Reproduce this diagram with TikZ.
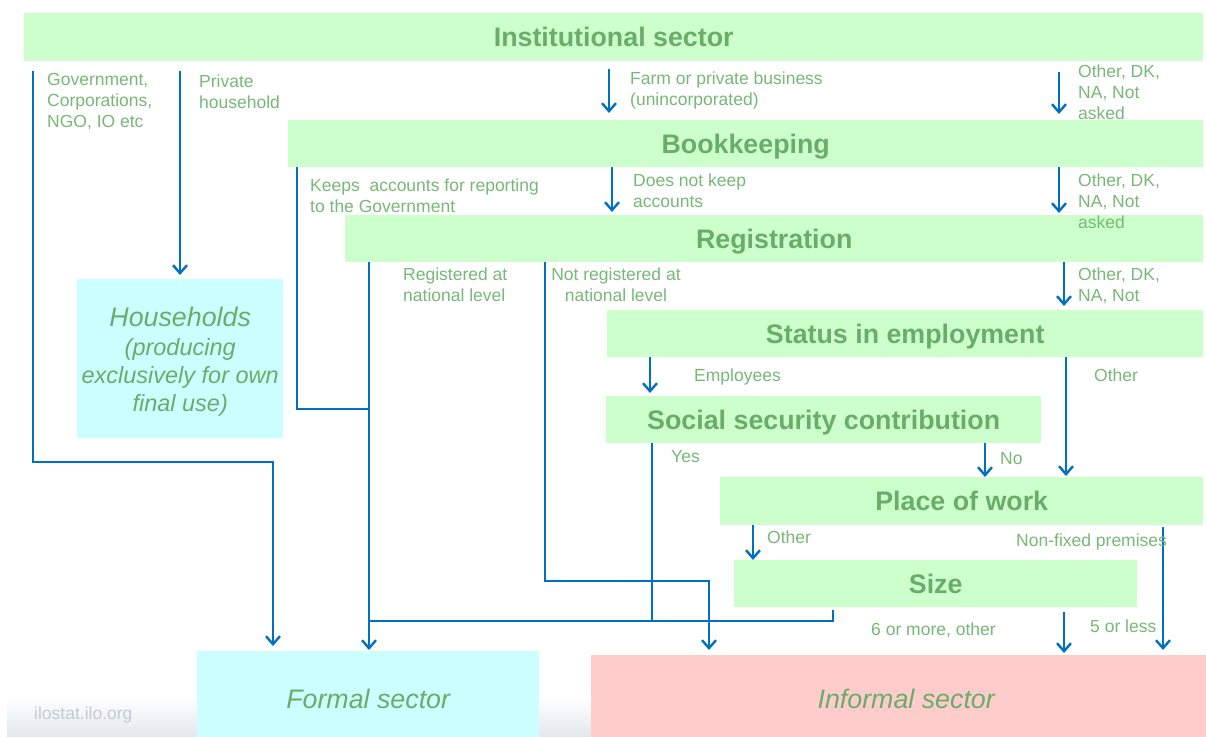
\documentclass[tikz,border=0pt]{standalone}
\usepackage{fontspec}
\setmainfont{Liberation Sans}
\usetikzlibrary{arrows.meta}
\definecolor{boxgreen}{HTML}{CCFFCC}
\definecolor{boxcyan}{HTML}{CCFFFF}
\definecolor{boxpink}{HTML}{FFCCCC}
\definecolor{titgreen}{HTML}{6AAD6A}
\definecolor{lblgreen}{HTML}{78B878}
\definecolor{lblue}{HTML}{0070C0}
\definecolor{wmark}{HTML}{C3CAD6}
\definecolor{band}{HTML}{E4E7EC}
\begin{document}
\begin{tikzpicture}[x=1pt,y=-1pt,
  gbox/.style={fill=boxgreen, inner sep=0pt, anchor=north west, text=titgreen,
    text height=19pt, text depth=0pt,
    font=\fontsize{26.8}{32}\selectfont\bfseries},
  obox/.style={inner sep=0pt, anchor=north west, text=titgreen,
    font=\fontsize{26.8}{32}\selectfont\itshape},
  lbl/.style={inner sep=0pt, anchor=north west, align=left, text=lblgreen,
    font=\fontsize{17.5}{21}\selectfont},
  ln/.style={draw=lblue, line width=2.4pt},
  arr/.style={ln, -{Straight Barb[length=8pt,width=14pt,line width=2.4pt]}}
]
\useasboundingbox (0,0) rectangle (1206,736);
\clip (0,0) rectangle (1206,736);
\fill[white] (0,0) rectangle (1206,736);
\shade[top color=white, bottom color=band] (7,697) rectangle (1206,736);

% boxes
\node[gbox, minimum width=1179pt, minimum height=48pt] (inst) at (24,13) {Institutional sector};
\node[gbox, minimum width=915pt, minimum height=47pt] (book) at (288,120) {Bookkeeping};
\node[gbox, minimum width=858pt, minimum height=47pt] (reg) at (345,215) {Registration};
\node[gbox, minimum width=596pt, minimum height=47pt] (stat) at (607,310) {Status in employment};
\node[gbox, minimum width=435pt, minimum height=47pt] (soc) at (606,396) {Social security contribution};
\node[gbox, minimum width=483pt, minimum height=48pt] (place) at (720,477) {Place of work};
\node[gbox, minimum width=403pt, minimum height=47pt] (size) at (734,560) {Size};
\node[obox, fill=boxcyan, minimum width=342pt, minimum height=96pt] (formal) at (197,651) {Formal sector};
\node[obox, fill=boxpink, minimum width=630pt, minimum height=88pt] (informal) at (591,655) {Informal sector};
\node[obox, fill=boxcyan, minimum width=206pt, minimum height=159pt, align=center,
  font=\fontsize{23.5}{28}\selectfont\itshape] (hh) at (77,279)
  {\rule{0pt}{25.6pt}{\fontsize{26.8}{28}\selectfont Households}\\[1pt](producing\\exclusively for own\\final use)};

% connectors
\coordinate (gA) at (33,71);
\coordinate (gB) at (273,462);
\draw[arr, shorten >=5pt] (gA) |- (gB) -- (gB |- formal.north);
\coordinate (pA) at (180,71);
\draw[arr, shorten >=4pt] (pA) -- (pA |- hh.north);
\coordinate (fA) at (609,69);
\draw[arr, shorten >=7pt] (fA) -- (fA |- book.north);
\coordinate (dA) at (1059,72);
\draw[arr, shorten >=6pt] (dA) -- (dA |- book.north);
\coordinate (rA) at (369,0);
\draw[arr, shorten >=1pt] (rA |- reg.south) -- (rA |- formal.north);
\coordinate (kA) at (297,409);
\draw[ln] (kA |- book.south) -- (kA) -- (kA -| rA);
\coordinate (sA) at (833,621);
\draw[ln, shorten >=3pt] (sA -| rA) -- (sA) -- (sA |- size.south);
\coordinate (yA) at (652,621);
\draw[ln] (yA |- soc.south) -- (yA);
\coordinate (nA) at (545,581);
\coordinate (nB) at (709,581);
\draw[arr, shorten >=5pt] (nA |- reg.south) -- (nA) -- (nB) -- (nB |- informal.north);
\coordinate (eA) at (612,0);
\draw[arr, shorten >=3pt] (eA |- book.south) -- (eA |- reg.north);
\coordinate (dB) at (1059,0);
\draw[arr, shorten >=2pt] (dB |- book.south) -- (dB |- reg.north);
\coordinate (dC) at (1064,0);
\draw[arr, shorten >=4pt] (dC |- reg.south) -- (dC |- stat.north);
\coordinate (emA) at (650,0);
\draw[arr, shorten >=3pt] (emA |- stat.south) -- (emA |- soc.north);
\coordinate (oA) at (1066,0);
\draw[arr, shorten >=1pt] (oA |- stat.south) -- (oA |- place.north);
\coordinate (noA) at (985,0);
\draw[arr] (noA |- soc.south) -- (noA |- place.north);
\coordinate (poA) at (753,0);
\draw[arr] (poA |- place.south) -- (poA |- size.north);
\coordinate (nfA) at (1163,527);
\draw[arr, shorten >=5pt] (nfA) -- (nfA |- informal.north);
\coordinate (lA) at (1064,612);
\draw[arr, shorten >=2pt] (lA) -- (lA |- informal.north);

% labels
\node[lbl] (l1) at (47,73) {Government,\\Corporations,\\NGO, IO etc};
\node[lbl] (l2) at (199,75) {Private\\household};
\node[lbl] (l3) at (630,72) {Farm or private business\\(unincorporated)};
\node[lbl] (l4) at (1078,65) {Other, DK,\\NA, Not\\asked};
\node[lbl] (l5) at (310,179) {Keeps~ accounts for reporting\\to the Government};
\node[lbl] (l6) at (633,174) {Does not keep\\accounts};
\node[lbl] (l7) at (1078,174) {Other, DK,\\NA, Not\\asked};
\node[lbl] (l8) at (403,268) {Registered at\\national level};
\node[lbl, anchor=north, align=center] (l9) at (616,268) {Not registered at\\national level};
\node[lbl] (l10) at (1078,268) {Other, DK,\\NA, Not};
\node[lbl] (l11) at (694,369) {Employees};
\node[lbl] (l12) at (1094,369) {Other};
\node[lbl] (l13) at (671,450) {Yes};
\node[lbl] (l14) at (1000,452) {No};
\node[lbl] (l15) at (767,531) {Other};
\node[lbl] (l16) at (1016,534) {Non-fixed premises};
\node[lbl] (l17) at (871,623) {6 or more, other};
\node[lbl] (l18) at (1090,620) {5 or less};
\node[lbl, text=wmark] (wm) at (34,707) {ilostat.ilo.org};
\end{tikzpicture}
\end{document}
